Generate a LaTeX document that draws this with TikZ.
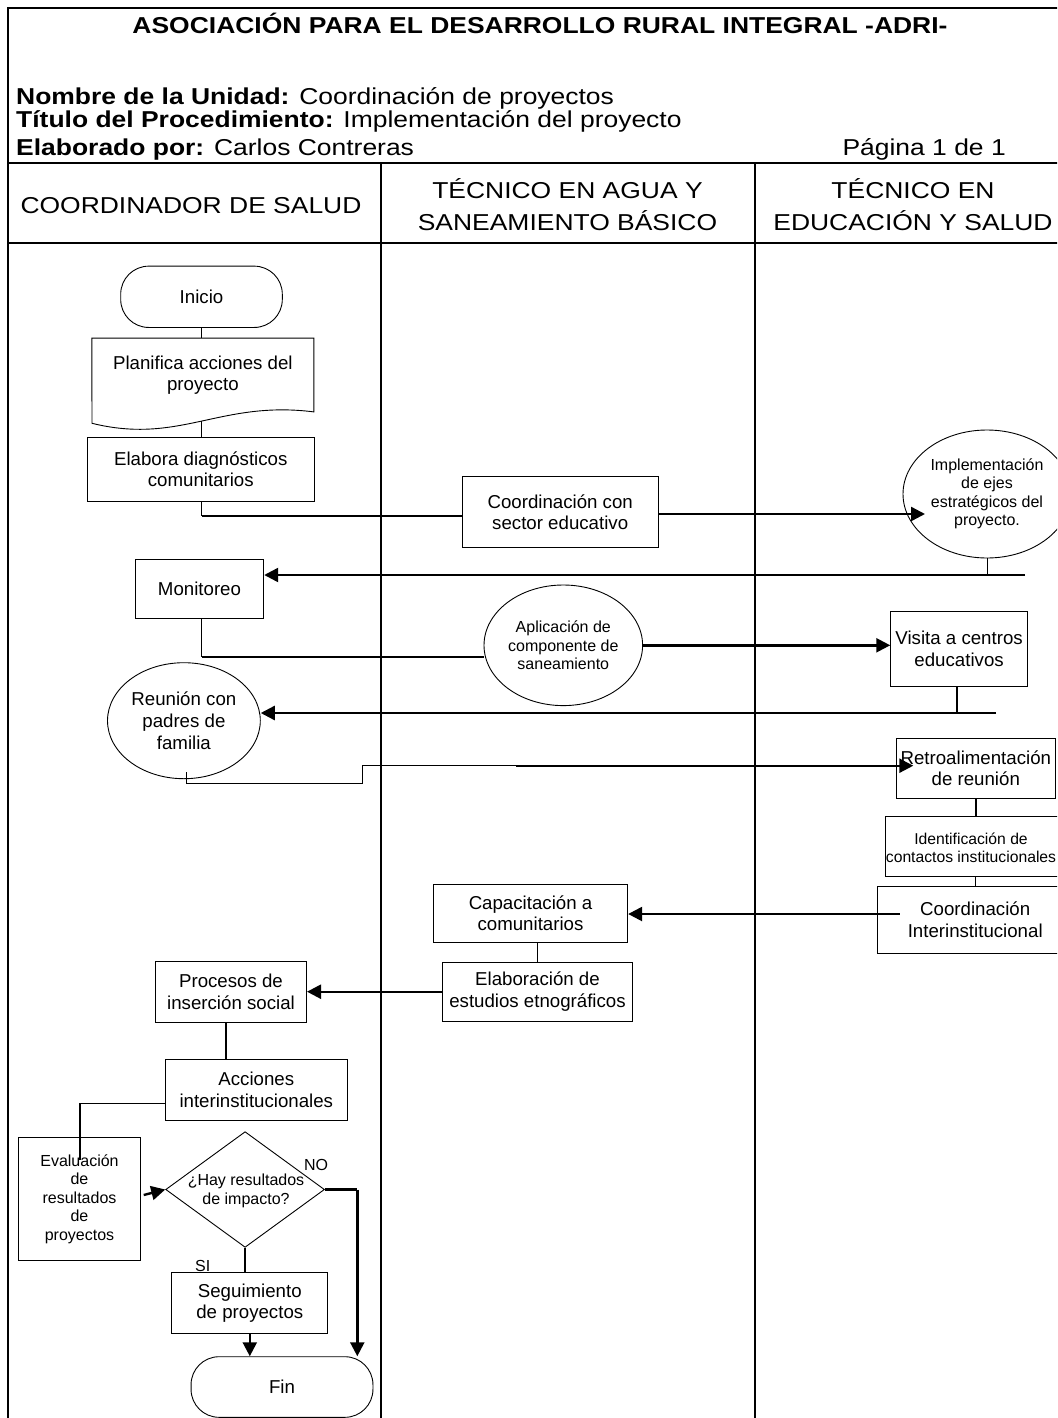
\documentclass[tikz,border=0pt]{standalone}
\usepackage{fontspec}
\setmainfont{Liberation Sans}
\newfontfamily\headfont{Liberation Sans}[FakeStretch=1.15]
\usetikzlibrary{arrows.meta,shapes.geometric,calc}

\newcommand{\nodefont}{\fontsize{18.67pt}{21.6pt}\selectfont}
\newcommand{\smallfont}{\fontsize{16pt}{18.5pt}\selectfont}
\newcommand{\headsize}{\headfont\fontsize{23pt}{27pt}\selectfont}

\tikzset{
  lane/.style={line width=2.2pt},
  heavy/.style={line width=2.4pt},
  light/.style={line width=1pt},
  mid/.style={line width=1.4pt},
  tip/.style={-{Triangle[length=14pt,width=14pt]}},
  box/.style={draw, line width=0.9pt, inner sep=0pt, align=center, font=\nodefont},
  sbox/.style={box, font=\smallfont},
  oval/.style={box, ellipse},
  term/.style={box, rounded corners=28pt},
  lbl/.style={inner sep=0pt, font=\smallfont},
  head/.style={inner sep=0pt, font=\headsize},
  lanetitle/.style={head, anchor=base},
}

\begin{document}
\begin{tikzpicture}[x=1pt,y=-1pt]
\useasboundingbox (0,0) rectangle (1057,1418);
\clip (0,0) rectangle (1057,1418);

% table frame and swimlanes
\draw[lane] (1070,8) -- (8,8) -- (8,1430);
\draw[lane] (8,163) -- (1070,163);
\draw[lane] (8,243) -- (1070,243);
\draw[lane] (381,163) -- (381,1430);
\draw[lane] (755,163) -- (755,1430);

% heading
\node[head, font=\headsize\bfseries, anchor=base] (titulo) at (540,33.2)
  {ASOCIACIÓN PARA EL DESARROLLO RURAL INTEGRAL -ADRI-};
\node[head, anchor=base west] (unidad) at (16,104.5)
  {\textbf{Nombre de la Unidad:} Coordinación de proyectos};
\node[head, anchor=base west] (procedimiento) at (16,127.4)
  {\textbf{Título del Procedimiento:} Implementación del proyecto};
\node[head, anchor=base west] (autor) at (16,155.2)
  {\textbf{Elaborado por:} Carlos Contreras};
\node[head, anchor=base east] (pagina) at (1006,155.2) {Página 1 de 1};

% lane titles
\node[lanetitle] (carrilA) at (191,213.2) {COORDINADOR DE SALUD};
\node[lanetitle] (carrilBa) at (567.5,198.2) {TÉCNICO EN AGUA Y};
\node[lanetitle] (carrilBb) at (567.5,230.2) {SANEAMIENTO BÁSICO};
\node[lanetitle] (carrilCa) at (913,198.2) {TÉCNICO EN};
\node[lanetitle] (carrilCb) at (913,230.2) {EDUCACIÓN Y SALUD};

% flow steps
\node[term, minimum width=161.6pt, minimum height=61.3pt] (inicio) at (201.5,296.8) {Inicio};
\node[inner sep=0pt, minimum width=221.7pt, minimum height=73.4pt, font=\nodefont, align=center]
  (planifica) at (202.85,375) {Planifica acciones del\\proyecto};
\draw[line width=0.9pt] (planifica.north west) -- (planifica.north east) -- (planifica.south east)
  .. controls (220,400) and (180,445) .. (92,423.3) -- cycle;
\coordinate (planbot) at (201.8,421);
\node[box, minimum width=227.2pt, minimum height=63.7pt] (elabora) at (200.8,469.2)
  {Elabora diagnósticos\\comunitarios};
\node[box, minimum width=196.4pt, minimum height=71pt] (coordsec) at (560.2,512.2)
  {Coordinación con\\sector educativo};
\node[oval, font=\smallfont, minimum width=168pt, minimum height=128pt] (impl) at (987,494)
  {Implementación\\de ejes\\estratégicos del\\proyecto.};
\node[box, minimum width=128.5pt, minimum height=59pt] (monitoreo) at (199.5,588.8) {Monitoreo};
\node[oval, font=\smallfont, minimum width=158.6pt, minimum height=120.6pt] (aplic) at (563.3,645.3)
  {Aplicación de\\componente de\\saneamiento};
\node[box, minimum width=136.8pt, minimum height=75.7pt] (visita) at (959.1,648.9)
  {Visita a centros\\educativos};
\node[oval, minimum width=152.8pt, minimum height=116pt] (reunion) at (183.9,720.7)
  {Reunión con\\padres de\\familia};
\node[box, minimum width=158.3pt, minimum height=60pt] (retro) at (975.8,768.3)
  {Retroalimentación\\de reunión};
\node[draw, line width=0.9pt, inner sep=0pt, minimum width=180pt, minimum height=60pt] (ident) at (975,846.7) {};
\node[lbl, align=center, font=\fontsize{15.7pt}{18.4pt}\selectfont] (identtxt) at (971,847.5)
  {Identificación de\\contactos institucionales};
\node[box, minimum width=195.7pt, minimum height=66.3pt] (coordint) at (975.2,919.8)
  {Coordinación\\Interinstitucional};
\node[box, minimum width=194.4pt, minimum height=58pt] (capac) at (530.5,913.3)
  {Capacitación a\\comunitarios};
\node[box, minimum width=189.6pt, minimum height=58.7pt] (elab2) at (537.5,991.7)
  {Elaboración de\\estudios etnográficos};
\node[box, minimum width=151.1pt, minimum height=60.6pt] (procesos) at (231,992)
  {Procesos de\\inserción social};
\node[box, minimum width=181.9pt, minimum height=60.7pt] (acciones) at (256.3,1089.7)
  {Acciones\\interinstitucionales};
\node[sbox, minimum width=121.7pt, minimum height=122.6pt] (evalua) at (79.5,1199)
  {Evaluación\\de\\resultados\\de\\proyectos};
\node[draw, diamond, line width=0.9pt, inner sep=0pt, minimum width=158.8pt, minimum height=115.7pt]
  (decision) at (245.1,1189.5) {};
\node[lbl, align=center] (pregunta) at (246,1190.9) {¿Hay resultados\\de impacto?};
\node[box, minimum width=156.2pt, minimum height=61pt] (seguim) at (249.8,1303.2)
  {Seguimiento\\de proyectos};
\node[term, minimum width=181.9pt, minimum height=60.6pt] (fin) at (282,1387) {Fin};
\node[lbl, anchor=base] (no) at (316,1170) {NO};
\node[lbl, anchor=base] (si) at (202.8,1271.5) {SI};

% connectors
\draw[light] (inicio.south) -- (inicio.south |- planifica.north);
\draw[light] (planbot) -- (planbot |- elabora.north);

\coordinate (k1) at (201.8,515.7);
\draw[light] (elabora.south -| k1) -- (k1);
\draw[heavy] (k1) -- (k1 -| coordsec.west);

\coordinate (impltip) at (925,514);
\draw[heavy,tip] (coordsec.east |- impltip) -- (impltip);

\coordinate (k2) at (987,575);
\draw[light] (impl.south) -- (k2);
\coordinate (r1) at (1025,575);
\draw[heavy,tip] (r1) -- (r1 -| monitoreo.east);

\coordinate (k3) at (201.8,656.7);
\draw[light] (monitoreo.south -| k3) -- (k3);
\draw[heavy] (k3) -- (k3 -| aplic.west);

\draw[heavy,tip] (aplic.east) -- (aplic.east -| visita.west);

\coordinate (k5) at (957,713);
\draw[mid] (visita.south -| k5) -- (k5);
\coordinate (r2) at (996,713);
\draw[heavy,tip] (r2) -- (r2 -| reunion.east);

\coordinate (k6) at (186.6,783.7);
\coordinate (k7) at (362,765.7);
\coordinate (k8) at (516,765.7);
\coordinate (retrotip) at (913.3,765.7);
\draw[light] (reunion.south -| k6) ++(0,-7) -- (k6) -| (k7) -- (k8);
\draw[heavy,tip] (k8) -- (retrotip);

\draw[mid] (retro.south) -- (retro.south |- ident.north);
\draw[light] (ident.south) -- (ident.south |- coordint.north);

\coordinate (k9) at (899.7,914);
\draw[heavy,tip] (k9) -- (k9 -| capac.east);

\draw[mid] (elab2.north |- capac.south) -- (elab2.north);
\draw[heavy,tip] (elab2.west) -- (elab2.west -| procesos.east);

\coordinate (k10) at (225.8,1040);
\draw[mid] (procesos.south -| k10) -- (k10 |- acciones.north);

\coordinate (k12) at (80,1160);
\draw[mid] ([yshift=-13.6pt]acciones.west) -| (k12);

\coordinate (k13) at (143.7,1195);
\draw[heavy,tip] (k13) -- (decision.west);

\coordinate (k14) at (357.3,1189.5);
\draw[heavy] (decision.east) -- (k14);
\draw[heavy,tip] (k14) -- (k14 |- fin.north);

\draw[heavy] (decision.south) -- (decision.south |- seguim.north);
\draw[heavy,tip] (seguim.south) -- (seguim.south |- fin.north);
\end{tikzpicture}
\end{document}
